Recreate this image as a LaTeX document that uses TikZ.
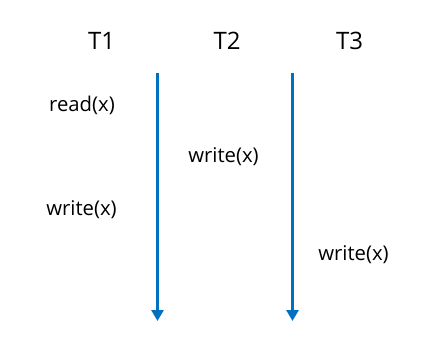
\documentclass[tikz,border=0pt]{standalone}
\usepackage{fontspec}
\setmainfont{Open Sans}
\usetikzlibrary{arrows.meta}
\definecolor{arrowblue}{HTML}{0070C0}
\tikzset{
  head/.style={anchor=base, inner sep=0pt, font=\fontsize{24}{26}\selectfont},
  op/.style={anchor=base, inner sep=0pt, font=\fontsize{20.3}{22}\selectfont},
  timeline/.style={draw=arrowblue, line width=3pt, -{Triangle[width=12pt,length=11pt]}}
}
\begin{document}
\begin{tikzpicture}[x=1pt,y=-1pt]
\useasboundingbox (0,0) rectangle (447,350);
\node[head] (t1) at (101.5,49.5) {T1};
\node[head] (t2) at (227,49.5) {T2};
\node[head] (t3) at (349.5,49.5) {T3};
\node[op] (r1) at (82,111.5) {read(x)};
\node[op] (w2) at (223.5,162.5) {write(x)};
\node[op] (w1) at (81.5,215.5) {write(x)};
\node[op] (w3) at (353.5,260) {write(x)};
\coordinate (a1s) at (157.5,73);
\coordinate (a1e) at (157.5,321);
\coordinate (a2s) at (292.5,73);
\coordinate (a2e) at (292.5,321);
\draw[timeline] (a1s) -- (a1e);
\draw[timeline] (a2s) -- (a2e);
\end{tikzpicture}
\end{document}
